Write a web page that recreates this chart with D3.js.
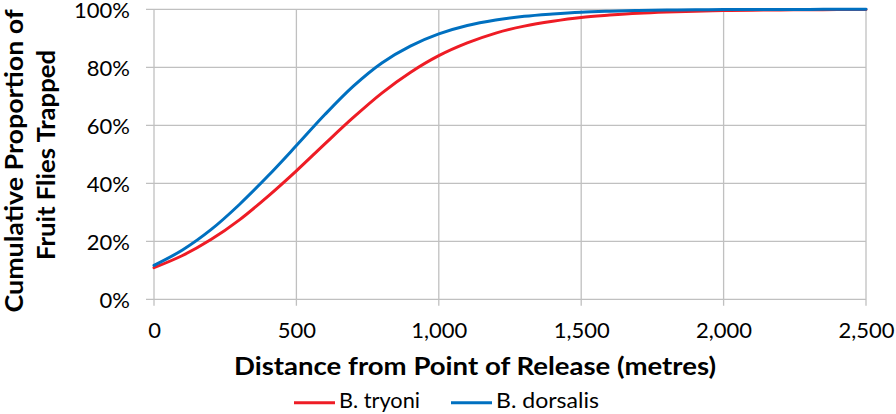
<!DOCTYPE html>
<html>
<head>
<meta charset="utf-8">
<script src="https://cdn.jsdelivr.net/npm/d3@7"></script>
<style>
  html, body { margin: 0; padding: 0; background: #fff; }
  svg { display: block; }
  text { font-family: Lato, "Open Sans", sans-serif; fill: #000; }
</style>
</head>
<body>
<svg id="chart" width="896" height="414"></svg>
<script>
// ---- data ----
const distances = [0, 100, 200, 300, 400, 500, 600, 700, 800, 900, 1000, 1100, 1200, 1300, 1400, 1500, 1600, 1700, 1800, 1900, 2000, 2100, 2200, 2300, 2400, 2500];
const tryoni = [0.109, 0.151, 0.206, 0.274, 0.355, 0.443, 0.536, 0.627, 0.711, 0.782, 0.840, 0.884, 0.918, 0.942, 0.959, 0.972, 0.980, 0.9865, 0.9907, 0.9936, 0.9956, 0.997, 0.998, 0.9986, 0.999, 0.9993];
const dorsalis = [0.117, 0.170, 0.240, 0.327, 0.425, 0.530, 0.637, 0.735, 0.815, 0.873, 0.915, 0.944, 0.963, 0.976, 0.984, 0.990, 0.9934, 0.9958, 0.9973, 0.9983, 0.9989, 0.9993, 0.9995, 0.9997, 0.9998, 0.9999];
const seriesNames = ["B. tryoni", "B. dorsalis"];
const seriesColors = ["#ee1c25", "#0070c0"];
const xTicks = [0, 500, 1000, 1500, 2000, 2500];
const yTicks = [0, 0.2, 0.4, 0.6, 0.8, 1.0];
const xTitle = "Distance from Point of Release (metres)";
const yTitle = ["Cumulative Proportion of", "Fruit Flies Trapped"];

// ---- layout ----
const svg = d3.select("#chart");
const mLeft = 154, mRight = 866, mTop = 9.3, mBottom = 299.3;
const x = d3.scaleLinear().domain([0, 2500]).range([mLeft, mRight]);
const y = d3.scaleLinear().domain([0, 1]).range([mBottom, mTop]);
const gridColor = "#c0c0c0";

// gridlines
svg.append("g").selectAll("line").data(yTicks).join("line")
  .attr("x1", mLeft - 8).attr("x2", mRight)
  .attr("y1", d => y(d)).attr("y2", d => y(d))
  .attr("stroke", gridColor).attr("stroke-width", 1.3);
svg.append("g").selectAll("line").data(xTicks).join("line")
  .attr("x1", d => x(d)).attr("x2", d => x(d))
  .attr("y1", mTop).attr("y2", mBottom + 6.5)
  .attr("stroke", gridColor).attr("stroke-width", 1.3);

// axes labels via d3 axes
const xAxis = d3.axisBottom(x).tickValues(xTicks).tickSize(0).tickPadding(0)
  .tickFormat(d3.format(","));
const gx = svg.append("g").attr("transform", `translate(0,${mBottom})`).call(xAxis);
gx.select(".domain").remove();
gx.selectAll("text").attr("font-size", 22).attr("font-family", "Lato")
  .attr("dy", null).attr("y", 39).attr("fill", "#000");

const yAxis = d3.axisLeft(y).tickValues(yTicks).tickSize(0).tickPadding(0)
  .tickFormat(d3.format(".0%"));
const gy = svg.append("g").attr("transform", `translate(${mLeft},0)`).call(yAxis);
gy.select(".domain").remove();
gy.selectAll("text").attr("font-size", 22).attr("font-family", "Lato")
  .attr("x", -24).attr("dy", "0.36em").attr("fill", "#000");

// lines
const line = d3.line().x((d, i) => x(distances[i])).y(d => y(d)).curve(d3.curveCatmullRom.alpha(0.5));
[tryoni, dorsalis].forEach((s, i) => {
  svg.append("path").datum(s).attr("d", line)
    .attr("fill", "none").attr("stroke", seriesColors[i]).attr("stroke-width", 3)
    .attr("stroke-linejoin", "round").attr("stroke-linecap", "round");
});

// axis titles
svg.append("text").attr("x", 475).attr("y", 375).attr("text-anchor", "middle")
  .attr("font-size", 25).attr("font-weight", "bold")
  .attr("textLength", 482).attr("lengthAdjust", "spacingAndGlyphs").text(xTitle);

svg.append("text").attr("transform", "translate(23,161) rotate(-90)").attr("text-anchor", "middle")
  .attr("font-size", 24).attr("font-weight", "bold")
  .attr("textLength", 303).attr("lengthAdjust", "spacingAndGlyphs").text(yTitle[0]);
svg.append("text").attr("transform", "translate(55,155) rotate(-90)").attr("text-anchor", "middle")
  .attr("font-size", 24).attr("font-weight", "bold")
  .attr("textLength", 210).attr("lengthAdjust", "spacingAndGlyphs").text(yTitle[1]);

// legend
const legendX = [294, 451];
const legendTextW = [81, 103];
const lg = svg.append("g");
seriesNames.forEach((n, i) => {
  lg.append("line").attr("x1", legendX[i]).attr("x2", legendX[i] + 41)
    .attr("y1", 402.7).attr("y2", 402.7)
    .attr("stroke", seriesColors[i]).attr("stroke-width", 3);
  lg.append("text").attr("x", legendX[i] + 45).attr("y", 407.5)
    .attr("font-size", 21.5)
    .attr("textLength", legendTextW[i]).attr("lengthAdjust", "spacingAndGlyphs").text(n);
});
</script>
</body>
</html>
